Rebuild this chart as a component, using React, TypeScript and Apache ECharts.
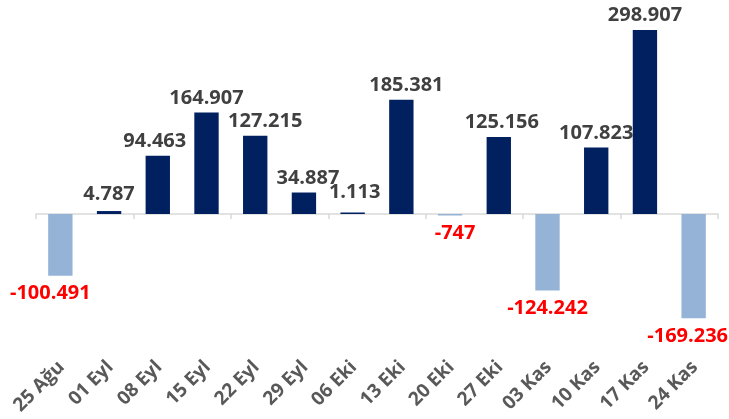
import React, { useEffect, useRef } from "react";
import * as echarts from "echarts";

const categories = ["25 Ağu", "01 Eyl", "08 Eyl", "15 Eyl", "22 Eyl", "29 Eyl", "06 Eki", "13 Eki", "20 Eki", "27 Eki", "03 Kas", "10 Kas", "17 Kas", "24 Kas"];
const values = [-100491, 4787, 94463, 164907, 127215, 34887, 1113, 185381, -747, 125156, -124242, 107823, 298907, -169236];

const POS = "#002060";
const NEG = "#95b3d7";

// small label nudges (style only), keyed by category index
const labelNudge: Record<number, [number, number]> = {
  0: [-10, 0],
  1: [0, -3],
  2: [-3, 0],
  4: [10, 0],
  5: [4, 0],
  6: [2, -6],
  7: [5, 0],
  8: [5, 0],
  9: [3, 0],
  13: [-6, 0],
};

function fmt(v: number): string {
  const s = Math.abs(v).toString().replace(/\B(?=(\d{3})+(?!\d))/g, ".");
  return (v < 0 ? "-" : "") + s;
}

export default function App() {
  const ref = useRef<HTMLDivElement>(null);
  useEffect(() => {
    const chart = echarts.init(ref.current!, null, { renderer: "svg" });
    chart.setOption({
      animation: false,
      grid: { left: 36, right: 11, top: 17, bottom: 63, containLabel: false },
      xAxis: [
        {
          type: "category",
          data: categories,
          position: "bottom",
          axisLine: { onZero: true, lineStyle: { color: "#d9d9d9", width: 1.5 } },
          axisTick: { show: true, length: 5, lineStyle: { color: "#d9d9d9", width: 1.5 } },
          axisLabel: { show: false },
        },
        {
          type: "category",
          data: categories,
          position: "bottom",
          axisLine: { show: false, onZero: false },
          axisTick: { show: false },
          axisLabel: {
            rotate: 45,
            margin: 7,
            interval: 0,
            color: "#595959",
            fontFamily: "Open Sans",
            fontWeight: "bold",
            fontSize: 19,
          },
        },
      ],
      yAxis: {
        type: "value",
        min: -230680,
        max: 320000,
        show: false,
        splitLine: { show: false },
      },
      series: [
        {
          type: "bar",
          xAxisIndex: 0,
          barWidth: "50%",
          barMinHeight: 1.5,
          data: values.map((v, i) => ({
            value: v,
            itemStyle: { color: v >= 0 ? POS : NEG },
            label: {
              show: true,
              position: v >= 0 ? "top" : "bottom",
              distance: 6,
              offset: labelNudge[i] || [0, 0],
              color: v >= 0 ? "#404040" : "#ff0000",
              fontFamily: "Open Sans",
              fontWeight: "bold",
              fontSize: 20,
              formatter: () => fmt(v),
            },
          })),
        },
      ],
    });
    return () => chart.dispose();
  }, []);
  return <div ref={ref} style={{ position: "fixed", left: 0, top: 0, width: 729, height: 419 }} />;
}
